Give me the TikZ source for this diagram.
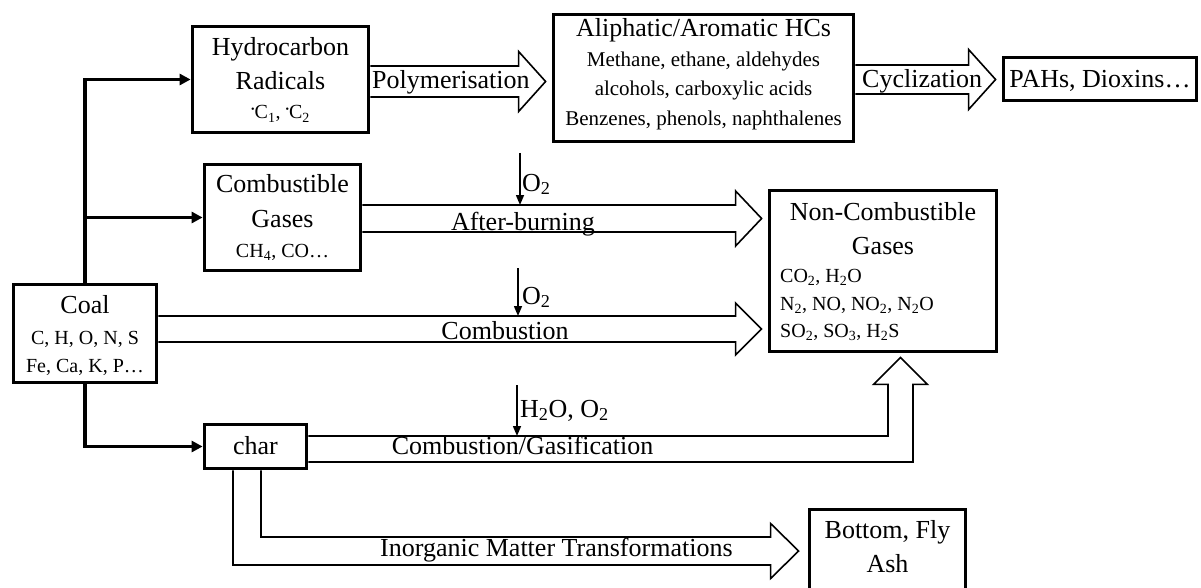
\documentclass[tikz,border=0pt]{standalone}
\usepackage{fontspec}
\usepackage{graphicx}
\setmainfont{Liberation Serif}
\usetikzlibrary{arrows.meta,calc}
\newcommand{\bigf}{\fontsize{26}{30}\selectfont}
\newcommand{\smf}{\fontsize{21}{24}\selectfont}
\newcommand{\smcf}{\fontsize{20}{24}\selectfont}
\newcommand{\rad}{\raisebox{6pt}{\fontsize{10}{10}\selectfont •}}
% horizontal hollow block arrow: #1 start point (shaft centre), #2 tip point, #3 shaft half width, #4 head half width, #5 head length
\newcommand{\hblock}[5]{\draw[hollow] let \p1=#1, \p2=#2 in
  ({\x1},{\y1+#3pt}) -- ({\x2-#5pt},{\y1+#3pt}) -- ({\x2-#5pt},{\y1+#4pt}) -- ({\x2},{\y1})
  -- ({\x2-#5pt},{\y1-#4pt}) -- ({\x2-#5pt},{\y1-#3pt}) -- ({\x1},{\y1-#3pt});}
\begin{document}
\begin{tikzpicture}[x=1pt,y=-1pt,
  box/.style={draw, rectangle, line width=3.8pt, inner sep=0pt},
  bigt/.style={font=\bigf, inner sep=0pt, anchor=base},
  smt/.style={font=\smf, inner sep=0pt, anchor=base},
  smct/.style={font=\smcf, inner sep=0pt, anchor=base},
  conn/.style={line width=3.5pt, -{Triangle[length=11pt,width=11pt]}},
  thinarr/.style={line width=1.5pt, -{Triangle[length=10pt,width=8pt]}},
  hollow/.style={draw, line width=1.6pt, line join=miter}]
\useasboundingbox (0,0) rectangle (1201,588);
\clip (0,0) rectangle (1201,588);

% boxes
\node[box, minimum width=176pt, minimum height=106pt] (hc) at (280.5,79.5) {};
\node[box, minimum width=300pt, minimum height=127pt] (al) at (703.5,78) {};
\node[box, minimum width=193pt, minimum height=43pt] (pah) at (1100,79) {};
\node[box, minimum width=156pt, minimum height=106pt] (cg) at (282.5,217.5) {};
\node[box, minimum width=143pt, minimum height=98pt] (coal) at (85,333.5) {};
\node[box, minimum width=227pt, minimum height=161pt] (ncg) at (883,271) {};
\node[box, minimum width=102pt, minimum height=44pt] (char) at (255.5,446.5) {};
\node[box, minimum width=156pt, minimum height=109pt] (ash) at (887.5,564) {};

% box texts
\node[bigt] (hcT1) at (280.5,56) {Hydrocarbon};
\node[bigt] (hcT2) at (280.5,90) {Radicals};
\node[smct] (hcT3) at (280.5,119) {\rad C\textsubscript{1}, \rad C\textsubscript{2}};

\node[bigt] (alT1) at (703.5,37) {Aliphatic/Aromatic HCs};
\node[smt] (alT2) at (703.5,67) {Methane, ethane, aldehydes};
\node[smt] (alT3) at (703.5,96) {alcohols, carboxylic acids};
\node[smt] (alT4) at (703.5,126) {Benzenes, phenols, naphthalenes};

\node[bigt] (pahT) at (1100,88) {PAHs, Dioxins\ldots};

\node[bigt] (cgT1) at (282.5,193) {Combustible};
\node[bigt] (cgT2) at (282.5,227) {Gases};
\node[smct] (cgT3) at (282.5,257) {CH\textsubscript{4}, CO\ldots};

\node[bigt] (coalT1) at (85,313) {Coal};
\node[smct] (coalT2) at (85,344) {C, H, O, N, S};
\node[smct] (coalT3) at (85,372) {Fe, Ca, K, P\ldots};

\node[bigt] (ncgT1) at (883,220) {Non-Combustible};
\node[bigt] (ncgT2) at (883,254) {Gases};
\node[smct, anchor=base west] (ncgT3) at (780,282) {CO\textsubscript{2}, H\textsubscript{2}O};
\node[smct, anchor=base west] (ncgT4) at (780,310) {N\textsubscript{2}, NO, NO\textsubscript{2}, N\textsubscript{2}O};
\node[smct, anchor=base west] (ncgT5) at (780,337) {SO\textsubscript{2}, SO\textsubscript{3}, H\textsubscript{2}S};

\node[bigt] (charT) at (255.5,454) {char};

\node[bigt] (ashT1) at (887.5,538) {Bottom, Fly};
\node[bigt] (ashT2) at (887.5,572) {Ash};

% thick connectors from coal
\draw[conn] (coal.north) |- (hc.west);
\draw[conn] (coal.north |- cg.west) -- (cg.west);
\draw[conn] (coal.south) |- (char.west);

% hollow block arrows
\hblock{($(hc.east)+(0,2)$)}{($(al.west)+(-6,0)$)}{15.5}{30}{27}
\hblock{($(al.east)+(0,1.5)$)}{($(pah.west)+(-6,0)$)}{14.5}{30}{27}
\hblock{($(cg.east)+(0,1)$)}{($(ncg.west)+(-6,0)$)}{13.5}{27.5}{26}
\hblock{($(coal.east)+(0,-4.5)$)}{($(ncg.west)+(-6,0)$)}{13}{26}{26}

% combustion / gasification (char -> non-combustible gases)
\draw[hollow] let \p1=($(char.east)+(0,2.5)$), \p2=($(ncg.south)+(17.5,4)$) in
  ({\x1},{\y1+13pt}) -- ({\x2-12.5pt},{\y1+13pt}) -- ({\x2-12.5pt},{\y2-27pt}) -- ({\x2-27pt},{\y2-27pt})
  -- ({\x2},{\y2}) -- ({\x2+27pt},{\y2-27pt}) -- ({\x2+12.5pt},{\y2-27pt}) -- ({\x2+12.5pt},{\y1-13pt}) -- ({\x1},{\y1-13pt});

% inorganic matter transformations (char -> ash)
\coordinate (inoY) at (0,551);
\draw[hollow] let \p1=(char.south), \p2=(ash.west), \p3=(inoY) in
  ({\x1+5.5pt},{\y1}) -- ({\x1+5.5pt},{\y3+14pt}) -- ({\x2-37pt},{\y3+14pt}) -- ({\x2-37pt},{\y3+27.5pt})
  -- ({\x2-9pt},{\y3}) -- ({\x2-37pt},{\y3-27.5pt}) -- ({\x2-37pt},{\y3-14pt}) -- ({\x1-22.5pt},{\y3-14pt}) -- ({\x1-22.5pt},{\y1});

% arrow labels
\node[bigt, anchor=base west] (lPoly) at (372,89) {Polymerisation};
\node[bigt, anchor=base west] (lCyc) at (862,88) {Cyclization};
\node[bigt] (lAfter) at (523,230) {After-burning};
\node[bigt] (lComb) at (505,339) {Combustion};
\node[bigt] (lGas) at (522.5,454) {Combustion/Gasification};
\node[bigt, anchor=base west] (lIno) at (380,556) {Inorganic Matter Transformations};

% oxidant inputs
\coordinate (o2aS) at (520,153); \coordinate (o2aE) at (520,205);
\coordinate (o2bS) at (518,268); \coordinate (o2bE) at (518,316);
\coordinate (o2cS) at (517,385); \coordinate (o2cE) at (517,436);
\draw[thinarr] (o2aS) -- (o2aE);
\draw[thinarr] (o2bS) -- (o2bE);
\draw[thinarr] (o2cS) -- (o2cE);
\node[bigt, anchor=base west] (o2aT) at (522,191) {O\textsubscript{2}};
\node[bigt, anchor=base west] (o2bT) at (522,304) {O\textsubscript{2}};
\node[bigt, anchor=base west] (o2cT) at (520,417) {H\textsubscript{2}O, O\textsubscript{2}};
\end{tikzpicture}
\end{document}
